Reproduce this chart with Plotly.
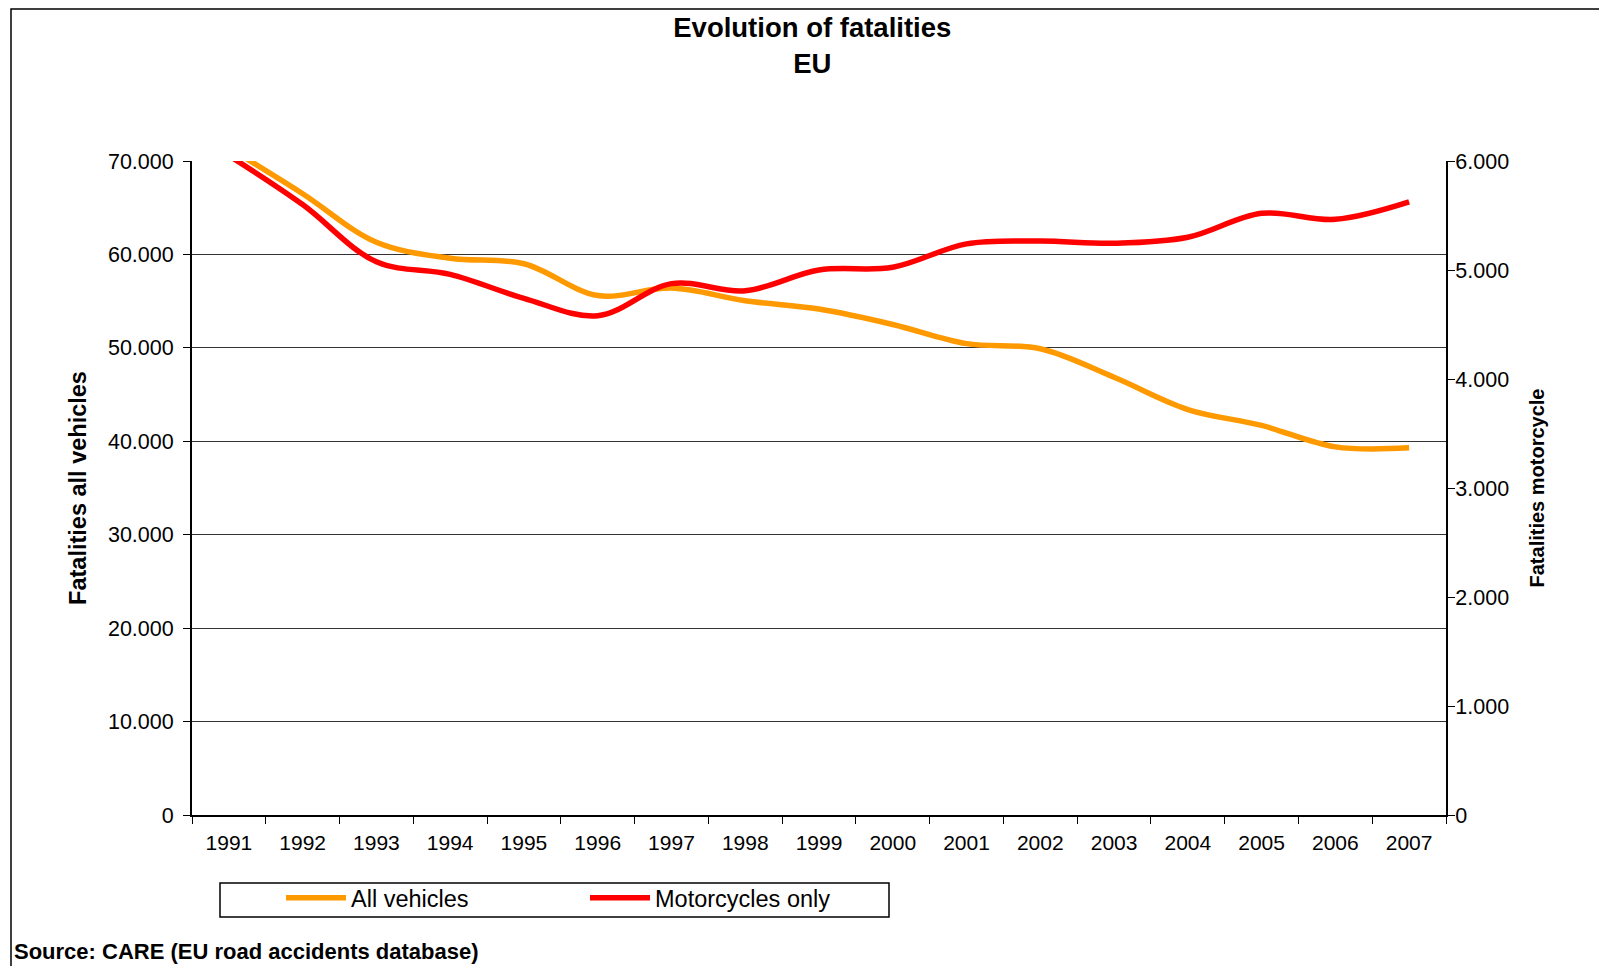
import plotly.graph_objects as go

years = [str(y) for y in range(1991, 2008)]
all_vehicles = [71400, 66500, 61300, 59600, 59000, 55600, 56400, 55050, 54150,
                52500, 50450, 49900, 46850, 43400, 41700, 39400, 39300]
motorcycles = [6050, 5600, 5075, 4960, 4740, 4580, 4875, 4810, 5000,
               5025, 5240, 5265, 5245, 5300, 5520, 5465, 5625]

W, H = 1599, 958
L, R, T, B = 184, 1438, 153, 807
pw, ph = R - L, B - T


def px(x):
    return (x - L) / pw


def py(y):
    return (B - y) / ph


FONT = "Liberation Sans, Arial, sans-serif"

fig = go.Figure()
fig.add_trace(go.Scatter(
    x=years, y=all_vehicles, name="All vehicles", mode="lines",
    line=dict(color="#FF9900", width=5.5, shape="spline", smoothing=1.0),
    yaxis="y"))
fig.add_trace(go.Scatter(
    x=years, y=motorcycles, name="Motorcycles only", mode="lines",
    line=dict(color="#FF0000", width=5.5, shape="spline", smoothing=1.0),
    yaxis="y2"))

fig.update_layout(
    width=W, height=H,
    margin=dict(l=L, r=W - R, t=T, b=H - B, autoexpand=False),
    paper_bgcolor="white", plot_bgcolor="white",
    separators=",.",
    font=dict(family=FONT, size=21, color="black"),
    title=dict(text="<b>Evolution of fatalities</b><br><b>EU</b>",
               x=0.503, xanchor="center", xref="container",
               y=1 - 29 / H, yanchor="top", yref="container",
               font=dict(family=FONT, size=27.5, color="black")),
    xaxis=dict(type="category", range=[-0.5, 16.5], tickson="boundaries",
               ticks="outside", ticklen=7, tickcolor="black", tickwidth=1,
               showline=True, linecolor="black", linewidth=2,
               showgrid=False, zeroline=False, ticklabelstandoff=8,
               tickfont=dict(size=21), fixedrange=True),
    yaxis=dict(range=[0, 70000], dtick=10000, tickformat=",d",
               ticks="outside", ticklen=7, tickcolor="black",
               showline=True, linecolor="black", linewidth=2,
               showgrid=True, gridcolor="#333333", gridwidth=1,
               zeroline=False, tickfont=dict(size=21.5), ticklabelstandoff=5,
               title=dict(text="<b>Fatalities all vehicles</b>",
                          font=dict(size=23.5), standoff=15)),
    yaxis2=dict(range=[0, 6000], dtick=1000, tickformat=",d",
                overlaying="y", side="right",
                ticks="outside", ticklen=7, tickcolor="black",
                showline=True, linecolor="black", linewidth=2,
                showgrid=False, zeroline=False, tickfont=dict(size=21.5),
                ticklabelstandoff=-4,
                title=dict(text="<b>Fatalities motorcycle</b>",
                           font=dict(size=20), standoff=22)),
    showlegend=True,
    legend=dict(orientation="h", x=px(273), xanchor="left",
                y=py(890), yanchor="middle",
                bgcolor="rgba(0,0,0,0)", borderwidth=0,
                font=dict(size=23.5), entrywidth=229, entrywidthmode="pixels",
                itemwidth=60, traceorder="normal"),
    shapes=[
        # chart border
        dict(type="rect", xref="paper", yref="paper",
             x0=px(3), x1=px(1597), y0=py(985), y1=py(1),
             line=dict(color="black", width=1.5), fillcolor="rgba(0,0,0,0)",
             layer="below"),
        # legend box
        dict(type="rect", xref="paper", yref="paper",
             x0=px(212), x1=px(881), y0=py(909), y1=py(875),
             line=dict(color="black", width=1.5), fillcolor="rgba(0,0,0,0)"),
    ],
    annotations=[
        dict(text="<b>Source: CARE (EU road accidents database)</b>",
             xref="paper", yref="paper", x=px(4), y=py(944),
             xanchor="left", yanchor="middle", showarrow=False,
             font=dict(family=FONT, size=22, color="black")),
    ],
)

fig.write_html("out.html")
